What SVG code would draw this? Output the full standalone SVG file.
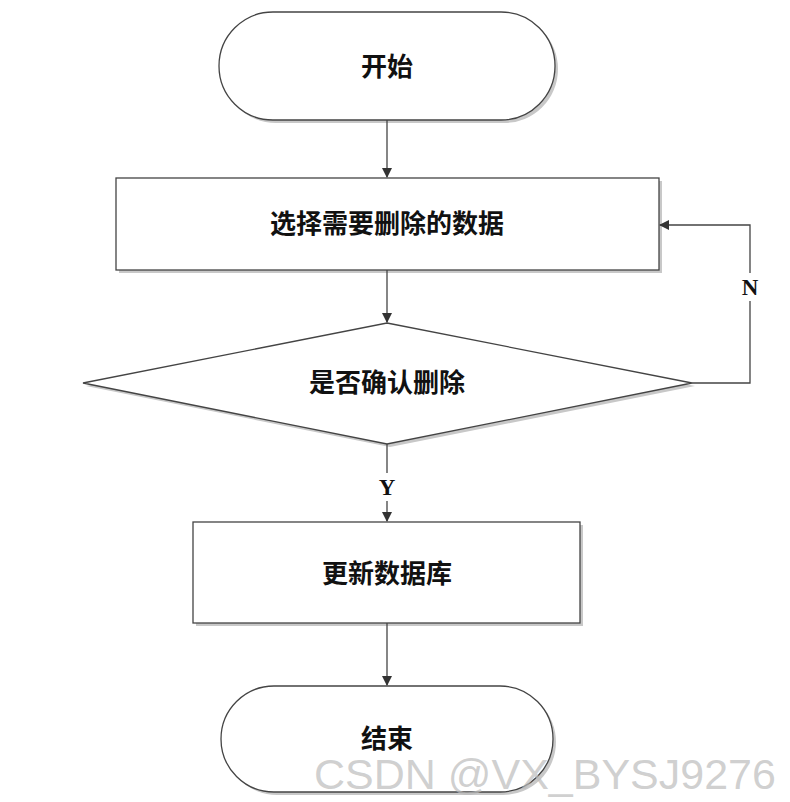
<svg xmlns="http://www.w3.org/2000/svg" width="790" height="802" viewBox="0 0 790 802">
<style>
.s{fill:#fff;stroke:#444;stroke-width:1.3}
.sh{fill:#c8c8c8}
.t{font-family:"Noto Sans CJK SC","Liberation Sans",sans-serif;font-size:26px;font-weight:bold;text-anchor:middle;fill:#111}
.c{fill:none;stroke:#444;stroke-width:1.3;marker-end:url(#a)}
.l{font-family:"Liberation Serif",serif;font-size:23px;font-weight:bold;text-anchor:middle;fill:#111}
</style>
<defs><marker id="a" markerWidth="10" markerHeight="10" refX="9" refY="5" orient="auto" markerUnits="userSpaceOnUse"><path d="M0,0 L10,5 L0,10 Z" fill="#333"/></marker></defs>
<rect width="790" height="802" fill="#fff"/>
<g id="start"><rect class="sh" x="222" y="15" width="336" height="108" rx="54"/><rect class="s" x="219" y="12" width="336" height="108" rx="54"/><text class="t" x="387" y="76">开始</text></g>
<g id="select"><rect class="sh" x="119" y="181" width="543" height="92"/><rect class="s" x="116" y="178" width="543" height="92"/><text class="t" x="387" y="233">选择需要删除的数据</text></g>
<g id="confirm"><polygon class="sh" points="390,326 695,386 390,447 86,386"/><polygon class="s" points="387,323 692,383 387,444 83,383"/><text class="t" x="387" y="392">是否确认删除</text></g>
<g id="update"><rect class="sh" x="196" y="525" width="387" height="101"/><rect class="s" x="193" y="522" width="387" height="101"/><text class="t" x="387" y="583">更新数据库</text></g>
<g id="end"><rect class="sh" x="224" y="689" width="332" height="106" rx="53"/><rect class="s" x="221" y="686" width="332" height="106" rx="53"/><text class="t" x="387" y="748">结束</text></g>
<g id="connectors">
<path class="c" d="M387,120 V177"/>
<path class="c" d="M387,270 V322"/>
<path class="c" d="M387,444 V521"/>
<path class="c" d="M387,623 V685"/>
<path class="c" d="M692,383 H750 V225 H660"/>
<rect x="738" y="273" width="24" height="28" fill="#fff"/>
<text class="l" x="750" y="295">N</text>
<rect x="375" y="473" width="24" height="28" fill="#fff"/>
<text class="l" x="387" y="495">Y</text>
</g>
<text x="545" y="789" font-family="Liberation Sans,sans-serif" font-size="43" fill="#bbb" fill-opacity="0.7" text-anchor="middle">CSDN @VX_BYSJ9276</text>
</svg>
